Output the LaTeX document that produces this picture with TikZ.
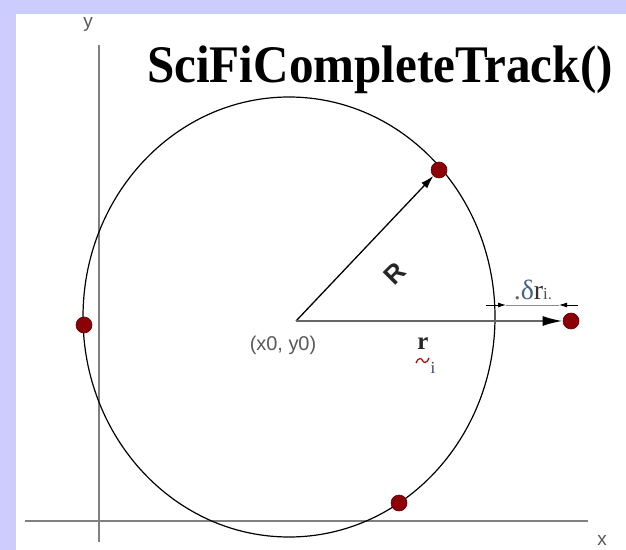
\documentclass[tikz,border=0pt]{standalone}
\usepackage{fontspec}
\setmainfont{Liberation Serif}
\newfontfamily\arialf{Liberation Sans}
\usetikzlibrary{arrows.meta}
\definecolor{lav}{RGB}{204,204,255}
\definecolor{dotred}{RGB}{140,0,8}
\definecolor{axisgray}{RGB}{128,128,128}
\definecolor{greek}{RGB}{70,100,135}
\begin{document}
\begin{tikzpicture}[x=1bp,y=-1bp,
  dot/.style={circle,fill=dotred,draw=dotred!70!black,line width=0.6bp,minimum size=16bp,inner sep=0pt},
  axisline/.style={draw=axisgray,line width=2bp},
  lbl/.style={font=\arialf\fontsize{19}{19}\selectfont,text=black!65,inner sep=0pt},
  dimtip/.style={-{Latex[length=8bp,width=5bp]},line width=0.8bp}]
\useasboundingbox (0,0) rectangle (626,550);
\fill[lav] (0,0) rectangle (626,550);
\fill[white] (16,14) rectangle (626,550);
% axes
\coordinate (ytop) at (99,45);
\coordinate (ybot) at (99,542);
\coordinate (xl) at (25,521);
\coordinate (xr) at (588,521);
\draw[axisline] (ytop) -- (ybot);
\draw[axisline] (xl) -- (xr);
\node[lbl] (ylab) at (88,24) {y};
\node[lbl] (xlab) at (602,540) {x};
% title
\node[anchor=base west,inner sep=0pt,font=\bfseries\fontsize{53}{53}\selectfont] (title) at (147,83) {\scalebox{0.93}[1]{SciFiCompleteTrack()}};
% circle
\draw[line width=1.2bp] (289,317) ellipse [x radius=206, y radius=220];
\coordinate (c) at (296,321);
\node[dot] (p1) at (439,170) {};
\node[dot] (p2) at (84,325) {};
\node[dot] (p3) at (399,503) {};
\node[dot] (p4) at (571,321) {};
% arrows
\draw[line width=1.3bp,-{Latex[length=13bp,width=8bp]}] (c) -- (p1);
\draw[draw=black!60,line width=2bp,-{Latex[length=20bp,width=10bp,color=black]}] (c) -- (p4);
% labels
\node[lbl,anchor=north,font=\arialf\fontsize{20}{20}\selectfont] (ctr) at (283,336) {(x0, y0)};
\node[font=\arialf\bfseries\fontsize{26}{26}\selectfont,text=black!85,rotate=45,inner sep=0pt] (rlab) at (395,274) {R};
\node[font=\bfseries\fontsize{25}{25}\selectfont,text=black!85,inner sep=0pt] (rr) at (423,344) {r};
\coordinate (t1) at (416,363);
\coordinate (t2) at (420,358.5);
\coordinate (t3) at (425,362.5);
\coordinate (t4) at (429,358);
\draw[red!75!black,line width=1.2bp] (t1) to[out=60,in=180] (t2) to[out=0,in=180] (t3) to[out=0,in=240] (t4);
\node[font=\fontsize{17}{17}\selectfont,text=greek!70!black,inner sep=0pt] (ii) at (433,368) {i};
% delta r
\coordinate (dl) at (486,305);
\coordinate (dlt) at (506,305);
\coordinate (dr) at (578,305);
\coordinate (drt) at (559,305);
\draw[black!45,line width=0.7bp] (dlt) -- (drt);
\draw[dimtip] (dl) -- (dlt);
\draw[dimtip] (dr) -- (drt);
\node[anchor=base,inner sep=0pt,font=\fontsize{28}{28}\selectfont] (drl) at (533,299) {\textcolor{black!60}{.}\textcolor{greek}{δ}\textcolor{black!80}{r}{\fontsize{17}{17}\selectfont\textcolor{black!70}{i}\textcolor{black!60}{.}}};
\end{tikzpicture}
\end{document}
